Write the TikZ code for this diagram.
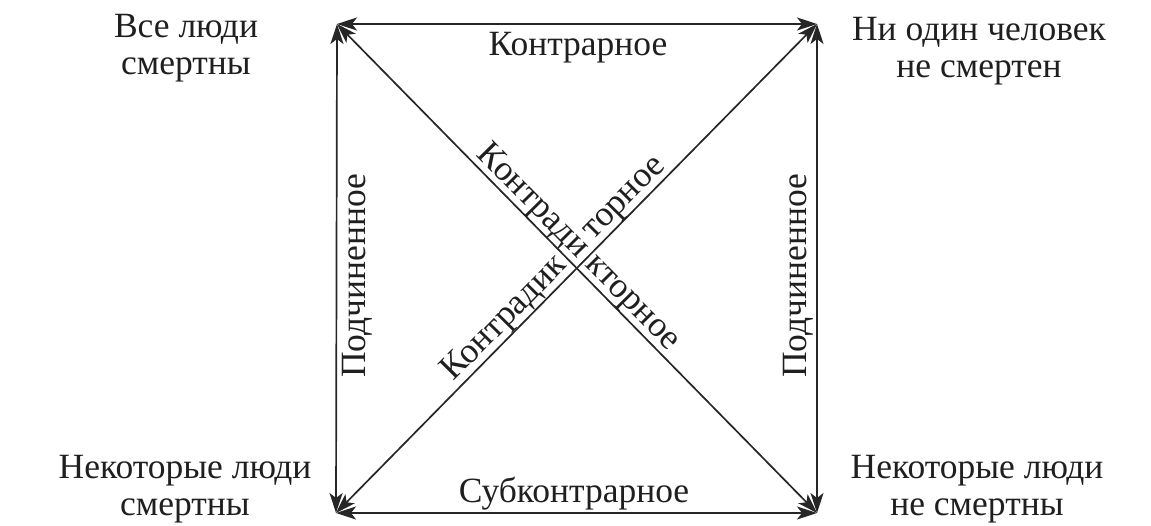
\documentclass[tikz,border=0pt]{standalone}
\usepackage{fontspec}
\setmainfont{Liberation Serif}
\usetikzlibrary{arrows.meta,calc}
\begin{document}
\begin{tikzpicture}[x=1pt,y=-1pt,
  lbl/.style={inner sep=0pt,font=\fontsize{35.5}{37}\selectfont,text=black!88},
  stmt/.style={lbl,align=center,anchor=base},
  rel/.style={draw=black!85,line width=1.7pt,{Stealth[length=20pt,width=13pt,inset=5pt]}-{Stealth[length=20pt,width=13pt,inset=5pt]}}]
\useasboundingbox (0,0) rectangle (1151,526);
\coordinate (tl) at (337,24);
\coordinate (tr) at (817,24);
\coordinate (bl) at (336,513);
\coordinate (br) at (817,513);
% statements (anchor = baseline of last line)
\node[stmt] (a) at (186,75) {Все люди\\смертны};
\node[stmt] (e) at (979,78) {Ни один человек\\не смертен};
\node[stmt] (i) at (185,515) {Некоторые люди\\смертны};
\node[stmt] (o) at (977,515) {Некоторые люди\\не смертны};
% connectors
\draw[rel] (tl) -- (tr);
\draw[rel] (bl) -- (br);
\draw[rel] (tl) -- (bl);
\draw[rel] (tr) -- (br);
\draw[rel] (tl) -- (br);
\draw[rel] (bl) -- (tr);
% relation labels
\node[lbl,anchor=base] (contr) at (578,56) {Контрарное};
\node[lbl,anchor=base] (sub) at (574,502) {Субконтрарное};
\node[lbl,anchor=base,rotate=90] (subL) at (365,276) {Подчиненное};
\node[lbl,anchor=base,rotate=90] (subR) at (806,276) {Подчиненное};
\node[lbl,anchor=base east,rotate=-45.4] (cd1) at (578.0,259.1) {Контради};
\node[lbl,anchor=base west,rotate=-45.4] (cd2) at (584.3,265.5) {кторное};
\node[lbl,anchor=base east,rotate=45.4] (cd3) at (568.0,266.2) {Контрадик};
\node[lbl,anchor=base west,rotate=45.4] (cd4) at (593.3,240.6) {торное};
\end{tikzpicture}
\end{document}
